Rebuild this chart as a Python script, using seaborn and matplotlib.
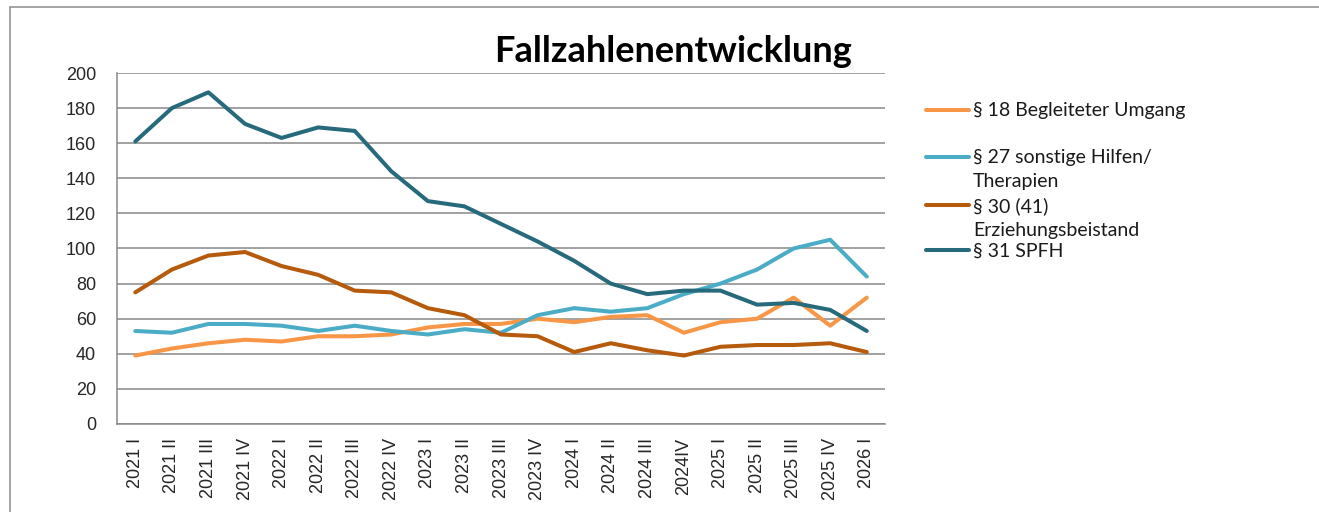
import numpy as np
import pandas as pd
import seaborn as sns
import matplotlib.pyplot as plt
from matplotlib.lines import Line2D

# Quartale und Fallzahlen
quartale = ['2021 I', '2021 II', '2021 III', '2021 IV', '2022 I', '2022 II', '2022 III',
            '2022 IV', '2023 I', '2023 II', '2023 III', '2023 IV', '2024 I', '2024 II',
            '2024 III', '2024IV', '2025 I', '2025 II', '2025 III', '2025 IV', '2026 I']

begleiteter_umgang = [39, 43, 46, 48, 47, 50, 50, 51, 55, 57, 57, 60, 58, 61, 62, 52, 58, 60, 72, 56, 72]
sonstige_hilfen = [53, 52, 57, 57, 56, 53, 56, 53, 51, 54, 52, 62, 66, 64, 66, 74, 80, 88, 100, 105, 84]
erziehungsbeistand = [75, 88, 96, 98, 90, 85, 76, 75, 66, 62, 51, 50, 41, 46, 42, 39, 44, 45, 45, 46, 41]
spfh = [161, 180, 189, 171, 163, 169, 167, 144, 127, 124, 114, 104, 93, 80, 74, 76, 76, 68, 69, 65, 53]

serien = ['§ 18 Begleiteter Umgang', '§ 27 sonstige Hilfen/\nTherapien',
          '§ 30 (41)\nErziehungsbeistand', '§ 31 SPFH']
farben = ['#F79646', '#4BACC6', '#B65A0C', '#276A7C']

y_ticks = list(range(0, 201, 20))

# Long-Format fuer seaborn
werte = [begleiteter_umgang, sonstige_hilfen, erziehungsbeistand, spfh]
df = pd.concat([
    pd.DataFrame({'pos': np.arange(len(quartale)), 'quartal': quartale, 'wert': w, 'serie': s})
    for s, w in zip(serien, werte)
], ignore_index=True)

sns.set_style('white')
plt.rcParams['font.family'] = ['Liberation Sans', 'DejaVu Sans']

fig = plt.figure(figsize=(13.19, 5.12), dpi=100)
ax = fig.add_axes([0.0887, 0.1719, 0.5823, 0.6855])

sns.lineplot(data=df, x='pos', y='wert', hue='serie', hue_order=serien,
             palette=farben, linewidth=2.9, legend=False, ax=ax, sort=False)

grau = '#878787'
ax.set_xlim(-0.5, len(quartale) - 0.5)
ax.set_ylim(0, 200)
ax.set_yticks(y_ticks)
ax.set_yticklabels([str(v) for v in y_ticks], fontsize=13)
ax.yaxis.grid(True, color=grau, linewidth=1.1)
ax.set_axisbelow(True)

# Teilstriche zwischen den Kategorien, Beschriftung in der Mitte
ax.set_xticks(np.arange(len(quartale) + 1) - 0.5)
ax.set_xticklabels([])
ax.set_xticks(np.arange(len(quartale)), minor=True)
ax.set_xticklabels(quartale, minor=True, rotation=90, fontsize=13)
ax.tick_params(axis='x', which='major', length=5, width=1.1, color=grau, direction='out')
ax.tick_params(axis='x', which='minor', length=0, pad=10)
ax.tick_params(axis='y', length=5, width=1.1, color=grau, direction='out', pad=10)

for side in ['top', 'right']:
    ax.spines[side].set_visible(False)
for side in ['left', 'bottom']:
    ax.spines[side].set_color(grau)
    ax.spines[side].set_linewidth(1.1)
ax.set_xlabel('')
ax.set_ylabel('')

fig.text(0.510, 0.900, 'Fallzahlenentwicklung', ha='center', va='center', color='black',
         fontsize=26, fontweight='bold', family=['Lato', 'DejaVu Sans'])

# Legende wie im Original: Linie auf Hoehe der ersten Textzeile
leg_y = [110, 157, 205, 250]
for s, c, y in zip(serien, farben, leg_y):
    yf = 1 - y / 512
    fig.add_artist(Line2D([926 / 1319, 969 / 1319], [yf, yf], color=c, linewidth=2.9,
                          solid_capstyle='round'))
    fig.text(973 / 1319, yf + 0.015, s, ha='left', va='top', fontsize=14, color='#1a1a1a',
             family=['Lato', 'DejaVu Sans'], linespacing=1.5)

# Rahmen des Diagrammbereichs
fig.add_artist(Line2D([10 / 1319, 1], [1 - 7 / 512, 1 - 7 / 512], color='#8c8c8c', linewidth=1.1))
fig.add_artist(Line2D([10 / 1319, 10 / 1319], [0, 1 - 7 / 512], color='#8c8c8c', linewidth=1.1))

plt.savefig('out.png', dpi=100)
plt.close()
